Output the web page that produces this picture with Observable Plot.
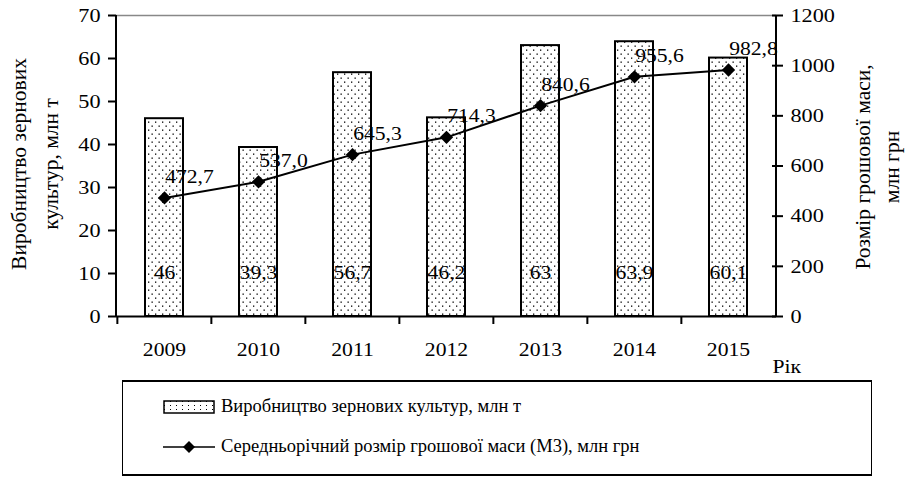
<!DOCTYPE html>
<html><head><meta charset="utf-8">
<script src="https://cdn.jsdelivr.net/npm/d3@7"></script>
<script src="https://cdn.jsdelivr.net/npm/@observablehq/plot@0.6"></script>
<style>
body{margin:0;background:#fff;font-family:"Liberation Serif","DejaVu Serif",serif;}
svg, svg text{font-family:"Liberation Serif","DejaVu Serif",serif !important;}
#wrap{position:relative;width:906px;height:478px;}
#legend{position:absolute;left:122px;top:380px;width:748px;height:92px;border-top:2.5px solid #000;border-bottom:2.5px solid #000;border-left:1px solid #000;border-right:1px solid #000;font-size:18.5px;}
.row{position:absolute;left:40px;display:flex;align-items:center;}
.row span{margin-left:6px;display:inline-block;}
</style></head>
<body><div id="wrap"><div id="chart"></div>
<div id="legend">
 <div class="row" style="top:14px"><svg width="52" height="14"><rect x="1" y="1" width="50" height="12" fill="url(#dotsL)" stroke="#000" stroke-width="1.5"/><defs><pattern id="dotsL" width="6" height="4" patternUnits="userSpaceOnUse"><rect width="6" height="4" fill="#fff"/><rect x="1" y="1" width="1" height="1" fill="#000"/></pattern></defs></svg><span id="l1">Виробництво зернових культур, млн т</span></div>
 <div class="row" style="top:54px"><svg width="52" height="14"><line x1="0" x2="52" y1="7" y2="7" stroke="#000" stroke-width="1.5"/><path d="M26,1 L32,7 L26,13 L20,7Z" fill="#000"/></svg><span id="l2">Середньорічний розмір грошової маси (М3), млн грн</span></div>
</div></div>
<script>
const years = ["2009","2010","2011","2012","2013","2014","2015"];
const grain = [46, 39.3, 56.7, 46.2, 63, 63.9, 60.1];
const grainLabels = ["46","39,3","56,7","46,2","63","63,9","60,1"];
const money = [472.7, 537.0, 645.3, 714.3, 840.6, 955.6, 982.8];
const moneyLabels = ["472,7","537,0","645,3","714,3","840,6","955,6","982,8"];
const leftTicks = [0,10,20,30,40,50,60,70];
const rightTicks = [0,200,400,600,800,1000,1200];

const k = 70/1200;
const data = years.map((y,i)=>({year:y, grain:grain[i], gl:grainLabels[i], money:money[i], ml:moneyLabels[i]}));
const W = 906, mL = 116, mR = 130;
const step = (W - mL - mR)/years.length;

const plot = Plot.plot({
  width: W, height: 375,
  marginLeft: mL, marginRight: mR, marginTop: 15, marginBottom: 59,
  style: {fontSize: "19px", color:"#000", background:"#fff"},
  x: {domain: years, paddingInner: 0.6, paddingOuter: 0.3, label: null},
  y: {domain: [0,70], label: null},
  marks: [
    Plot.ruleY([70], {stroke:"#888", strokeWidth:1.5}),
    Plot.barY(data, {x:"year", y:"grain", fill:"url(#dots)", stroke:"#000", strokeWidth:2}),
    Plot.text(data, {x:"year", y:() => 10.2, text:"gl", fontSize:19}),
    Plot.line(data, {x:"year", y:d=>d.money*k, stroke:"#000", strokeWidth:2}),
    Plot.dot(data, {x:"year", y:d=>d.money*k, symbol:"diamond2", r:6, fill:"#000"}),
    Plot.text(data, {x:"year", y:d=>d.money*k, text:"ml", dx:25, dy:-21, fontSize:19}),
    Plot.axisY({ticks:leftTicks, tickSize:8, tickPadding:8, fontSize:19.5, label:null, strokeWidth:2}),
    Plot.axisY({anchor:"right", ticks:rightTicks.map(t=>t*k), tickFormat:(d)=>String(Math.round(d/k)), tickSize:6, tickPadding:8, fontSize:19.5, label:null, strokeWidth:2}),
    Plot.axisY({anchor:"right", ticks:rightTicks.map(t=>t*k), text:null, tickSize:5, dx:-5, label:null, strokeWidth:2}),
    Plot.ruleY([0], {stroke:"#000", strokeWidth:2}),
    Plot.axisX({tickSize:8, text:null, dx:-step/2, strokeWidth:2, label:null}),
    Plot.axisX({tickSize:0, tickPadding:26, fontSize:19, label:null}),
    Plot.text(["Рік"], {frameAnchor:"bottom-right", dx:-4, dy:56, fontSize:19, textAnchor:"start"})
  ]
});
document.getElementById("chart").appendChild(plot);
const svg = d3.select(plot);
// stretch text horizontally like the reference
const S = 1.14;
plot.querySelectorAll("text").forEach(el => {
  const bb = el.getBBox();
  const a = getComputedStyle(el).textAnchor;
  const ox = a === "end" ? bb.x + bb.width : a === "middle" ? bb.x + bb.width/2 : bb.x;
  const old = el.getAttribute("transform") || "";
  el.setAttribute("transform", `${old} translate(${ox},0) scale(${S},1) translate(${-ox},0)`);
});
const defs = svg.insert("defs", ":first-child");
const p = defs.append("pattern").attr("id","dots").attr("width",7).attr("height",8).attr("patternUnits","userSpaceOnUse");
p.append("rect").attr("width",7).attr("height",8).attr("fill","#fff");
p.append("rect").attr("x",1).attr("y",1.5).attr("width",1.3).attr("height",1.3).attr("fill","#000");
p.append("rect").attr("x",4.5).attr("y",5.5).attr("width",1.3).attr("height",1.3).attr("fill","#000");
const xr = mL + step*years.length;
svg.append("line").attr("x1",xr).attr("x2",xr).attr("y1",15).attr("y2",316).attr("stroke","#000").attr("stroke-width",2);
svg.append("line").attr("x1",mL).attr("x2",mL).attr("y1",15).attr("y2",316).attr("stroke","#000").attr("stroke-width",2);
const lt = svg.append("text").attr("transform","translate(0,164) rotate(-90)").attr("text-anchor","middle").attr("font-size",21.5);
lt.append("tspan").attr("x",0).attr("y",26).text("Виробництво зернових");
lt.append("tspan").attr("x",0).attr("y",58).text("культур, млн т");
const rt = svg.append("text").attr("transform","translate(0,167) rotate(-90)").attr("text-anchor","middle").attr("font-size",21.5);
rt.append("tspan").attr("x",0).attr("y",870).text("Розмір грошової маси,");
rt.append("tspan").attr("x",0).attr("y",899).text("млн грн");
</script></body></html>
